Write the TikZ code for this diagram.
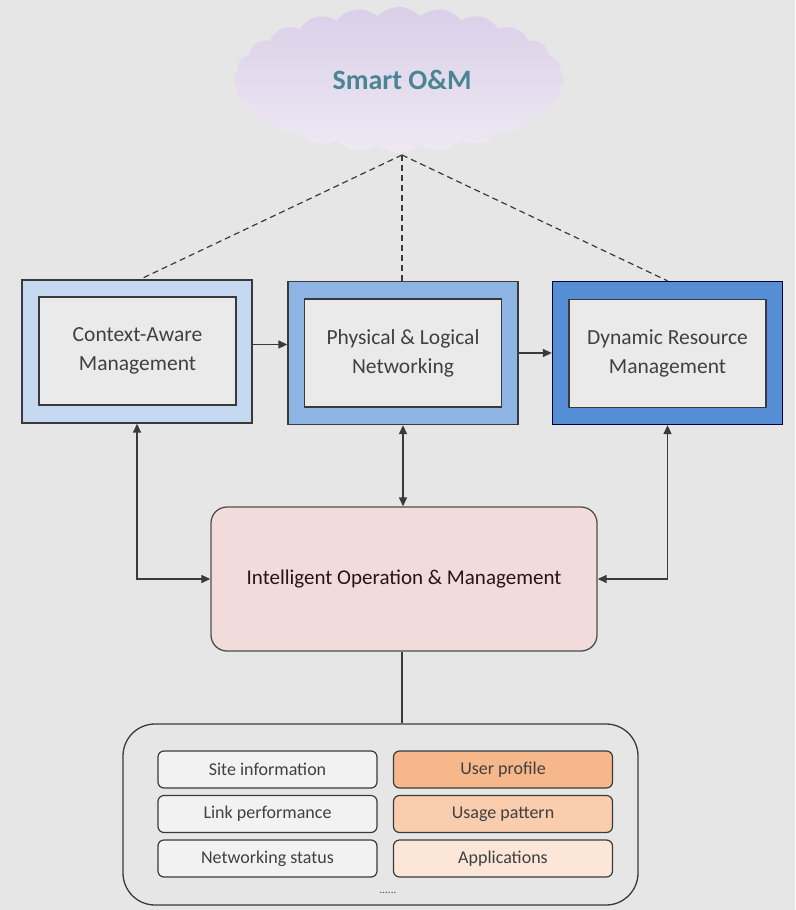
\documentclass[tikz,border=0pt]{standalone}
\usepackage{fontspec}
\setmainfont{Carlito}
\usetikzlibrary{shapes.symbols,arrows.meta,calc}
\definecolor{bg}{HTML}{E6E6E6}
\definecolor{txt}{HTML}{404040}
\definecolor{edge}{HTML}{3A3A3A}
\definecolor{cloudtop}{HTML}{DACFE8}
\definecolor{cloudbot}{HTML}{EEE9F4}
\definecolor{smartc}{HTML}{4A8595}
\definecolor{blueA}{HTML}{C6D9F1}
\definecolor{blueB}{HTML}{8DB4E2}
\definecolor{blueC}{HTML}{558ED5}
\definecolor{innerc}{HTML}{EAEAEA}
\definecolor{iomc}{HTML}{F2DCDB}
\definecolor{orA}{HTML}{F6B78A}
\definecolor{orB}{HTML}{F9CDAD}
\definecolor{orC}{HTML}{FCE6D8}
\definecolor{grayitem}{HTML}{F2F2F2}
\tikzset{
  outerbox/.style={draw=edge, line width=1.3pt, minimum width=230pt, minimum height=143pt, inner sep=0pt},
  innerbox/.style={draw=edge, line width=1.4pt, fill=innerc, minimum width=197pt, minimum height=108pt, inner sep=0pt,
     align=center, text=txt, font=\fontsize{21.5}{29}\selectfont},
  iombox/.style={draw=edge!90, line width=1.3pt, fill=iomc, rounded corners=16pt, minimum width=386pt, minimum height=144pt,
     text=txt!80!red!40!black, font=\fontsize{21}{25}\selectfont},
  contbox/.style={draw=edge, line width=1.3pt, rounded corners=32pt, minimum width=515pt, minimum height=181pt, inner sep=0pt},
  itembox/.style={draw=edge, line width=1.2pt, rounded corners=6pt, minimum width=219pt, minimum height=37pt, inner sep=0pt,
     text=txt, font=\fontsize{18}{22}\selectfont},
  conn/.style={draw=edge, line width=1.4pt},
  arr/.style={conn, -{Triangle[length=9pt,width=8pt]}},
  darr/.style={conn, {Triangle[length=9pt,width=8pt]}-{Triangle[length=9pt,width=8pt]}},
  dashln/.style={draw=edge, line width=1.2pt, dash pattern=on 6pt off 4pt},
}
\begin{document}
\begin{tikzpicture}[x=1pt,y=-1pt]
\fill[bg] (0,0) rectangle (795,910);
\useasboundingbox (0,0) rectangle (795,910);

% cloud
\node[cloud, cloud puffs=24, cloud puff arc=95, cloud ignores aspect, minimum width=330pt, minimum height=146pt,
      draw=none, top color=cloudtop, bottom color=cloudbot, inner sep=0pt] (cloud) at (399,80) {};
\node[text=smartc, font=\bfseries\fontsize{28}{32}\selectfont] (smart) at (402,80) {Smart O\&M};
\coordinate (apex) at (402,155);

% three upper boxes
\node[outerbox, fill=blueA] (o1) at (137,351.5) {};
\node[innerbox] (b1) at (137.5,351) {Context-Aware\\Management};
\node[outerbox, fill=blueB] (o2) at (403,353) {};
\node[innerbox] (b2) at (403,353) {Physical \& Logical\\Networking};
\node[outerbox, fill=blueC, draw=black!80!blue] (o3) at (667.5,353) {};
\node[innerbox] (b3) at (667.5,353.5) {Dynamic Resource\\Management};

% dashed lines
\draw[dashln] (apex) -- ([xshift=3pt]o1.north);
\draw[dashln] (apex) -- (o2.north -| apex);
\draw[dashln] (apex) -- (o3.north);

% horizontal arrows
\draw[arr] ([yshift=7pt]o1.east) -- ([yshift=7pt]o1.east -| o2.west);
\draw[arr] (o2.east) -- (o2.east -| o3.west);

% IOM
\node[iombox] (iom) at (404,579) {Intelligent Operation \& Management};

\draw[darr] (o1.south) |- (iom.west);
\draw[darr] (o3.south) |- (iom.east);
\draw[darr] (o2.south) -- (o2.south |- iom.north);

% container
\node[contbox] (cont) at (380.5,814.5) {};
\draw[conn] (iom.south -| apex) -- (cont.north -| apex);

\node[itembox, fill=grayitem] (s1) at (267.5,769.5) {Site information};
\node[itembox, fill=grayitem] (s2) at (267.5,814) {Link performance};
\node[itembox, fill=grayitem] (s3) at (267.5,858.5) {Networking status};
\node[itembox, fill=orA] (u1) at (503,769.5) {User profile};
\node[itembox, fill=orB] (u2) at (503,814) {Usage pattern};
\node[itembox, fill=orC] (u3) at (503,858.5) {Applications};
\node[text=txt, font=\fontsize{11}{12}\selectfont] (dots) at (388,893) {......};
\end{tikzpicture}
\end{document}
